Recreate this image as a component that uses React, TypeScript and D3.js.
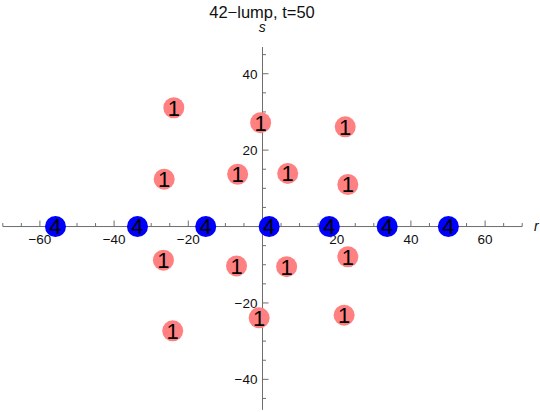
import React from "react";
import * as d3 from "d3";

// lump positions
const blueR = [-55.8, -33.7, -15.3, 1.8, 18.0, 33.6, 50.1];
const blueS = [0, 0, 0, 0, 0, 0, 0];
const blueLabel = "4";

const redR = [-23.9, -0.5, 22.3, -26.5, -6.7, 6.8, 23.0, -26.7, -7.0, 6.5, 23.0, -24.2, -0.9, 22.0];
const redS = [31.1, 27.2, 26.1, 12.4, 13.7, 13.9, 11.0, -8.8, -10.3, -10.5, -7.9, -27.3, -23.9, -23.2];
const redLabel = "1";

const xTickLabels = [-60, -40, -20, 20, 40, 60];
const yTickLabels = [-40, -20, 20, 40];
const xDomain = [-70, 70];
const yDomain = [-48, 47];

const title = "42\u2212lump, t=50";

const fmt = (v: number) => (v < 0 ? "\u2212" + Math.abs(v) : String(v));

export default function App() {
  const width = 540;
  const height = 412;
  const x = d3.scaleLinear().domain(xDomain).range([2.8, 522.2]);
  const y = d3.scaleLinear().domain(yDomain).range([409.9, 47]);
  const x0 = x(0);
  const y0 = y(0);
  const axisColor = "#6e6e6e";
  const font = "'Liberation Sans', Arial, sans-serif";
  const xMinor = d3.range(-70, 71, 5);
  const yMinor = d3.range(-45, 46, 5);

  const pts = [
    ...blueR.map((r, i) => ({ r, s: blueS[i], fill: "#0000ff", label: blueLabel })),
    ...redR.map((r, i) => ({ r, s: redS[i], fill: "#ff8080", label: redLabel })),
  ];

  return (
    <svg
      width={width}
      height={height}
      style={{ position: "absolute", left: 0, top: 0, background: "#fff" }}
      fontFamily={font}
    >
      <text x={262} y={18} textAnchor="middle" fontSize={16.5} fill="#111">
        {title}
      </text>
      <text x={262.3} y={32} textAnchor="middle" fontSize={14} fontStyle="italic" fill="#111">
        s
      </text>
      <text x={534} y={231} fontSize={14} fontStyle="italic" fill="#111">
        r
      </text>

      {/* axes */}
      <line x1={x(xDomain[0])} x2={x(xDomain[1])} y1={y0} y2={y0} stroke={axisColor} strokeWidth={1} />
      <line x1={x0} x2={x0} y1={y(yDomain[0])} y2={y(yDomain[1])} stroke={axisColor} strokeWidth={1} />

      {xMinor.map((t) => {
        const major = t % 20 === 0 && t !== 0;
        return (
          <line key={"xt" + t} x1={x(t)} x2={x(t)} y1={y0} y2={y0 - (major ? 6 : 3.5)} stroke={axisColor} />
        );
      })}
      {yMinor.map((t) => {
        const major = t % 20 === 0 && t !== 0;
        return (
          <line key={"yt" + t} x1={x0} x2={x0 + (major ? 6 : 3.5)} y1={y(t)} y2={y(t)} stroke={axisColor} />
        );
      })}

      {xTickLabels.map((t) => (
        <text key={"xl" + t} x={x(t)} y={y0 + 17.5} textAnchor="middle" fontSize={13.5} fill="#111">
          {fmt(t)}
        </text>
      ))}
      {yTickLabels.map((t) => (
        <text key={"yl" + t} x={x0 - 5} y={y(t) + 4.8} textAnchor="end" fontSize={13.5} fill="#111">
          {fmt(t)}
        </text>
      ))}

      {pts.map((p, i) => (
        <g key={"p" + i} transform={`translate(${x(p.r)},${y(p.s)})`}>
          <circle r={10.5} fill={p.fill} />
          <text textAnchor="middle" dy="0.36em" fontSize={22} fill="#000">
            {p.label}
          </text>
        </g>
      ))}
    </svg>
  );
}
